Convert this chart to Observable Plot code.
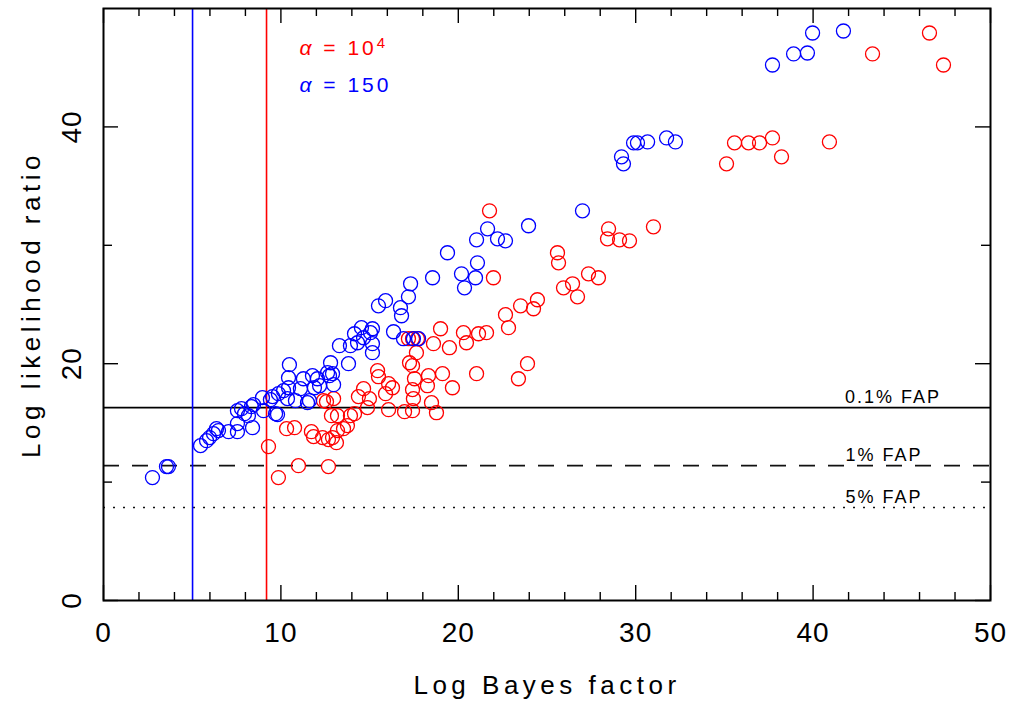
<!DOCTYPE html>
<html>
<head>
<meta charset="utf-8">
<script src="https://cdn.jsdelivr.net/npm/d3@7"></script>
<script src="https://cdn.jsdelivr.net/npm/@observablehq/plot@0.6"></script>
<style>
  html, body { margin: 0; padding: 0; background: #fff; }
  svg { display: block; }
</style>
</head>
<body>
<div id="chart"></div>
<script>
// ---- data ----
const blueX = [2.76,3.55,3.66,5.47,5.81,5.98,6.20,6.37,6.48,7.05,
  7.55,7.55,7.55,7.78,7.95,8.17,8.40,8.34,8.46,8.96,
  9.02,9.41,9.53,9.70,9.81,9.86,10.15,10.37,10.43,10.43,
  10.48,10.82,11.10,11.27,11.50,11.61,11.78,11.89,12.06,12.18,
  12.63,12.80,12.91,12.97,12.74,13.30,13.81,13.92,14.15,14.32,
  14.54,14.66,15.05,15.16,15.16,15.16,15.50,15.90,16.35,16.74,
  16.80,17.19,17.31,16.91,17.47,17.76,18.55,19.39,20.18,20.35,
  20.97,21.08,21.03,21.65,22.21,22.66,23.96,27.00,29.20,29.31,
  29.88,30.10,30.67,31.74,32.24,37.71,38.90,39.68,39.97,41.71];
const blueY = [10.38,11.31,11.31,13.08,13.50,13.76,14.09,14.51,14.35,14.26,
  14.26,14.94,16.03,16.20,15.78,15.61,14.60,16.37,16.54,17.13,
  16.03,16.96,17.22,15.78,15.70,17.47,17.72,17.05,17.97,18.82,
  19.92,16.88,17.89,18.73,16.71,16.88,18.99,17.97,18.73,18.14,
  19.24,20.08,19.16,18.23,18.99,21.52,20.00,21.52,22.53,21.77,
  23.04,22.19,22.62,22.95,21.69,20.93,24.89,25.32,22.70,24.73,
  24.05,25.65,26.75,22.11,22.11,22.11,27.26,29.37,27.59,26.41,
  27.26,28.52,30.46,31.39,30.55,30.38,31.65,32.91,37.47,36.88,
  38.65,38.65,38.73,39.07,38.73,45.23,46.16,46.24,47.93,48.10];
const redX = [9.30,9.86,10.99,12.68,10.32,10.77,11.72,11.84,12.35,12.68,
  12.91,13.13,13.19,13.53,13.75,13.92,14.15,12.40,12.57,12.97,
  12.85,13.19,14.37,14.66,14.88,14.99,15.45,15.50,15.90,16.07,
  16.29,16.07,16.97,17.42,17.47,17.42,17.53,17.25,17.42,17.64,
  17.19,17.42,17.70,18.32,18.26,18.49,18.77,19.00,18.60,19.50,
  19.11,19.67,20.29,20.46,21.14,21.59,21.03,21.98,21.76,22.66,
  22.83,23.51,24.24,24.46,23.39,23.90,25.59,25.65,25.93,26.44,
  26.72,27.34,27.90,28.47,28.41,29.09,29.65,31.00,35.12,35.57,
  36.36,36.98,37.71,38.22,40.92,43.35,46.56,47.35];
const redY = [13.00,10.38,11.39,11.31,14.51,14.60,14.26,13.84,13.76,13.59,
  13.76,13.33,14.35,14.51,14.77,15.61,15.78,16.88,16.79,17.05,
  15.61,15.61,17.22,17.89,16.29,17.05,19.41,18.90,17.47,18.31,
  17.97,16.12,15.95,16.03,17.05,17.81,18.73,20.08,19.83,20.93,
  22.11,22.11,22.11,18.99,18.14,16.71,15.86,22.95,21.69,21.35,
  19.16,17.97,22.62,21.77,22.53,22.62,19.16,27.26,32.91,24.14,
  23.04,24.89,24.64,25.40,18.73,20.00,29.37,28.52,26.41,26.75,
  25.65,27.59,27.26,31.39,30.55,30.46,30.38,31.56,36.88,38.65,
  38.65,38.65,39.07,37.47,38.73,46.16,47.93,45.23];

// thresholds
const fapLevels = [16.29, 11.39, 7.85];
const fapLabels = ["0.1% FAP", "1% FAP", "5% FAP"];
const alphaCuts = [9.19, 5.02];            // red (α = 10^4), blue (α = 150)
const alphaLabels = ["α = 10⁴", "α = 150"];

// ticks
const xMajor = [0, 10, 20, 30, 40, 50];
const xMinor = d3.range(0, 51, 2).filter(v => v % 10 !== 0);
const yMajor = [0, 20, 40];
const yMinor = [10, 30];
const xTickLabels = [0, 10, 20, 30, 40, 50];
const yTickLabels = [0, 20, 40];

// ---- layout ----
const W = 1012, H = 713;
const mL = 103, mR = 22, mT = 8, mB = 113;
const pW = W - mL - mR, pH = H - mT - mB;
const FONT = "'Liberation Sans', Arial, 'DejaVu Sans', sans-serif";

const blue = blueX.map((x, i) => ({x, y: blueY[i]}));
const red = redX.map((x, i) => ({x, y: redY[i]}));

const chart = Plot.plot({
  width: W, height: H,
  marginLeft: mL, marginRight: mR, marginTop: mT, marginBottom: mB,
  style: {fontFamily: FONT, background: "#fff", overflow: "visible"},
  x: {domain: [0, 50], axis: null},
  y: {domain: [0, 50], axis: null},
  marks: [
    // threshold lines
    Plot.ruleY([fapLevels[0]], {stroke: "#000", strokeWidth: 1.6}),
    Plot.ruleY([fapLevels[1]], {stroke: "#111", strokeWidth: 1.6, strokeDasharray: "16,13"}),
    Plot.ruleY([fapLevels[2]], {stroke: "#111", strokeWidth: 1.6, strokeDasharray: "2,8"}),
    Plot.ruleX([alphaCuts[0]], {stroke: "#ff0000", strokeWidth: 1.6}),
    Plot.ruleX([alphaCuts[1]], {stroke: "#0000ff", strokeWidth: 1.6}),
    // points
    Plot.dot(red, {x: "x", y: "y", r: 7, stroke: "#ff0000", strokeWidth: 1.3, fill: "none"}),
    Plot.dot(blue, {x: "x", y: "y", r: 7, stroke: "#0000ff", strokeWidth: 1.3, fill: "none"}),
    // inward ticks
    Plot.ruleX(xMajor, {insetTop: pH - 15, stroke: "#000", strokeWidth: 1.4}),
    Plot.ruleX(xMinor, {insetTop: pH - 8, stroke: "#000", strokeWidth: 1.4}),
    Plot.ruleX(xMajor, {insetBottom: pH - 15, stroke: "#000", strokeWidth: 1.4}),
    Plot.ruleX(xMinor, {insetBottom: pH - 8, stroke: "#000", strokeWidth: 1.4}),
    Plot.ruleY(yMajor, {insetRight: pW - 15, stroke: "#000", strokeWidth: 1.4}),
    Plot.ruleY(yMinor, {insetRight: pW - 9, stroke: "#000", strokeWidth: 1.4}),
    Plot.ruleY(yMajor, {insetLeft: pW - 15, stroke: "#000", strokeWidth: 1.4}),
    Plot.ruleY(yMinor, {insetLeft: pW - 9, stroke: "#000", strokeWidth: 1.4}),
    Plot.frame({stroke: "#000", strokeWidth: 2}),
    // tick labels
    Plot.text(xTickLabels, {x: d => d, text: d => String(d), frameAnchor: "bottom", dy: 33,
      textAnchor: "middle", lineAnchor: "middle", fontSize: 28, fill: "#000"}),
    Plot.text(yTickLabels, {y: d => d, text: d => String(d), frameAnchor: "left", dx: -31, rotate: -90,
      textAnchor: "middle", lineAnchor: "middle", fontSize: 28, fill: "#000"}),
    // axis titles
    Plot.text(["Log Bayes factor"], {text: d => d, frameAnchor: "bottom", dy: 85,
      textAnchor: "middle", lineAnchor: "middle", fontSize: 26, fill: "#000"}),
    Plot.text(["Log likelihood ratio"], {text: d => d, frameAnchor: "left", dx: -72, rotate: -90,
      textAnchor: "middle", lineAnchor: "middle", fontSize: 26, fill: "#000"}),
    // FAP labels
    Plot.text(fapLevels, {x: (d, i) => [44.5, 44.0, 44.0][i], y: d => d, text: (d, i) => fapLabels[i],
      lineAnchor: "bottom", dy: -5, fontSize: 18, fill: "#000"}),
    // alpha labels
    Plot.text(alphaLabels, {x: 11.05, y: (d, i) => [46.6, 43.5][i], text: d => d, textAnchor: "start",
      fill: (d, i) => ["#ff0000", "#0000ff"][i], fontSize: 21})
  ]
});

document.getElementById("chart").appendChild(chart);

// letter spacing to mimic the wide-set plotting font; italic alpha; superscript
const svg = d3.select(chart);
svg.selectAll("text").each(function() {
  const t = d3.select(this);
  const txt = this.textContent;
  if (/^Log /.test(txt)) t.style("letter-spacing", "4.5px");
  else if (/FAP/.test(txt)) t.style("letter-spacing", "2px");
  else if (/^\d+$/.test(txt)) t.style("letter-spacing", "1px");
  else if (/^α/.test(txt)) {
    t.style("letter-spacing", "3px");
    const rest = txt.slice(1);
    t.text(null);
    t.append("tspan").attr("font-style", "italic").text("α");
    if (rest.endsWith("⁴")) {
      t.append("tspan").text(rest.slice(0, -1).replace(/\s/g, "\u00a0"));
      t.append("tspan").attr("dy", "-0.5em").attr("font-size", "15").text("4");
    } else {
      t.append("tspan").text(rest.replace(/\s/g, "\u00a0"));
    }
  }
});
</script>
</body>
</html>
